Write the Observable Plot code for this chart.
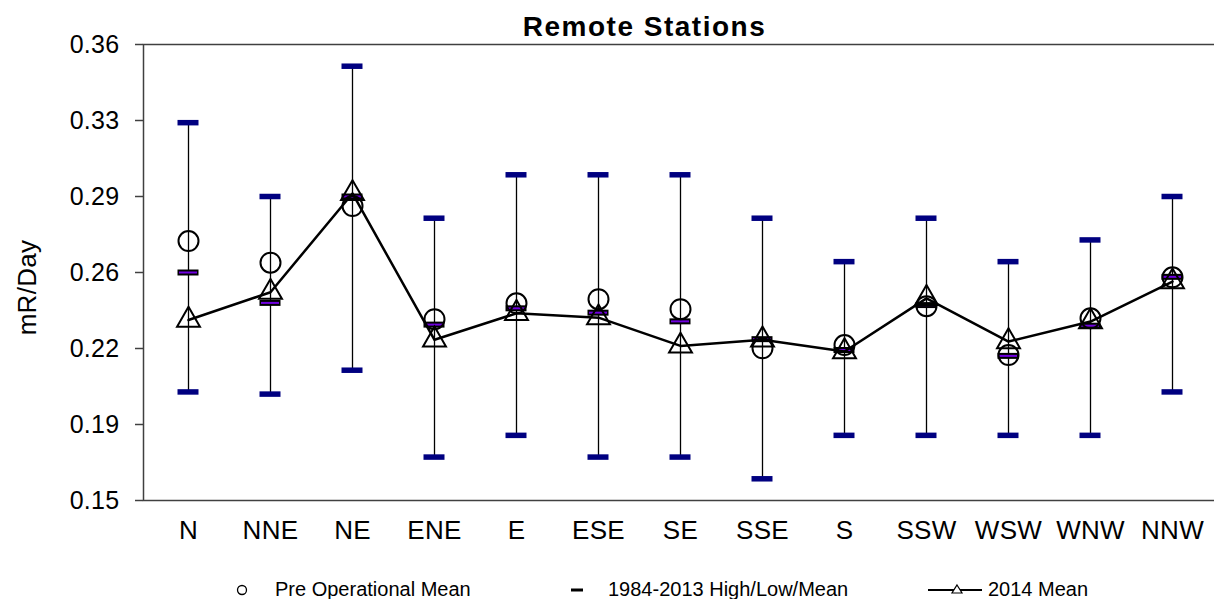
<!DOCTYPE html>
<html><head><meta charset="utf-8">
<script src="https://cdn.jsdelivr.net/npm/d3@7"></script>
<script src="https://cdn.jsdelivr.net/npm/@observablehq/plot@0.6"></script>
<style>
html,body{margin:0;padding:0;background:#fff;overflow:hidden;}
body{font-family:"Liberation Sans",Arial,sans-serif;color:#000;width:1214px;}
#title{position:relative;z-index:2;height:22px;box-sizing:border-box;padding-top:13px;padding-left:75px;text-align:center;font-weight:bold;font-size:28px;line-height:28px;letter-spacing:1.5px;width:1214px;white-space:nowrap;overflow:visible;}
#legend{position:relative;height:19px;width:1214px;font-size:20px;line-height:19px;}
#legend .item{position:absolute;top:0;white-space:nowrap;}
#legend svg{position:absolute;top:0;overflow:visible;}
</style>
</head><body>
<div id="title">Remote Stations</div>
<div id="chart"></div>
<div id="legend"></div>
<script>
const dirs = ["N","NNE","NE","ENE","E","ESE","SE","SSE","S","SSW","WSW","WNW","NNW"];
const high = [0.324,0.290,0.350,0.280,0.300,0.300,0.300,0.280,0.260,0.280,0.260,0.270,0.290];
const low  = [0.200,0.199,0.210,0.170,0.180,0.170,0.170,0.160,0.180,0.180,0.180,0.180,0.200];
const histMean = [0.255,0.241,0.290,0.231,0.2385,0.2365,0.2325,0.2243,0.2193,0.2400,0.2166,0.2305,0.2530];
const preOpMean = [0.2695,0.2595,0.2856,0.2335,0.2408,0.2427,0.2381,0.2201,0.2216,0.2395,0.2170,0.2339,0.2528];
const mean2014 = [0.2331,0.2459,0.2914,0.2240,0.2362,0.2342,0.2212,0.2240,0.2186,0.2431,0.2232,0.2324,0.2508];
const yTicks = [0.15,0.185,0.22,0.255,0.29,0.325,0.36];
const yTickLabels = ["0.15","0.19","0.22","0.26","0.29","0.33","0.36"];
const legendLabels = ["Pre Operational Mean","1984-2013 High/Low/Mean","2014 Mean"];

const data = dirs.map((d,i)=>({dir:d, high:high[i], low:low[i], mean:histMean[i], pre:preOpMean[i], y14:mean2014[i]}));

const chart = Plot.plot({
  width:1214, height:558,
  marginTop:22, marginBottom:80, marginLeft:143, marginRight:-3,
  style:{fontFamily:"'Liberation Sans', Arial, sans-serif", color:"#000", background:"transparent"},
  x:{type:"band", domain:dirs, padding:0, label:null},
  y:{domain:[0.15,0.36], label:null},
  marks:[
    Plot.frame({stroke:"#404040", strokeWidth:1.5}),
    Plot.axisX({tickSize:0, tickPadding:20, fontSize:26, label:null}),
    Plot.axisY({ticks:yTicks, tickFormat:d=>yTickLabels[yTicks.indexOf(d)], tickSize:8, tickPadding:16, fontSize:25, stroke:"#404040", strokeWidth:1.5, label:null}),
    Plot.text(["mR/Day"], {frameAnchor:"left", textAnchor:"middle", dx:-116, dy:15, rotate:-90, fontSize:26, fill:"#000", style:{letterSpacing:"1.5px"}}),
    Plot.ruleX(data, {x:"dir", y1:"low", y2:"high", stroke:"#000", strokeWidth:1.3}),
    Plot.tickY(data, {x:"dir", y:"high", stroke:"#000080", strokeWidth:5.5, inset:30.5}),
    Plot.tickY(data, {x:"dir", y:"low", stroke:"#000080", strokeWidth:5.5, inset:30.5}),
    Plot.tickY(data, {x:"dir", y:"mean", stroke:"#000", strokeWidth:6, inset:30.5}),
    Plot.tickY(data, {x:"dir", y:"mean", stroke:"#7000E0", strokeWidth:2, inset:32}),
    Plot.dot(data, {x:"dir", y:"pre", r:10, stroke:"#000", strokeWidth:2, fill:"none"}),
    Plot.line(data, {x:"dir", y:"y14", stroke:"#000", strokeWidth:2.5}),
    Plot.dot(data, {x:"dir", y:"y14", symbol:"triangle", r:8.5, stroke:"#000", strokeWidth:2, fill:"none"})
  ]
});
chart.style.letterSpacing = "0.3px";
document.getElementById("chart").appendChild(chart);

// legend
const lg = document.getElementById("legend");
const ns = "http://www.w3.org/2000/svg";
function addSvg(left, width, build){
  const s = document.createElementNS(ns,"svg");
  s.setAttribute("width",width); s.setAttribute("height",19);
  s.style.left = left+"px";
  build(s); lg.appendChild(s);
}
function el(s, tag, attrs){ const e=document.createElementNS(ns,tag); for(const k in attrs) e.setAttribute(k,attrs[k]); s.appendChild(e); }
addSvg(236, 12, s=>el(s,"circle",{cx:6,cy:10,r:4.5,fill:"none",stroke:"#000","stroke-width":1.3}));
addSvg(570, 14, s=>el(s,"line",{x1:1,x2:13,y1:10,y2:10,stroke:"#000","stroke-width":3}));
addSvg(928, 54, s=>{
  el(s,"line",{x1:0,x2:54,y1:10,y2:10,stroke:"#000","stroke-width":1.8});
  el(s,"path",{d:"M29,5 L34,13 L24,13 Z",fill:"#fff",stroke:"#000","stroke-width":1.2});
});
[[275,legendLabels[0]],[608,legendLabels[1]],[988,legendLabels[2]]].forEach(([x,t])=>{
  const d=document.createElement("div"); d.className="item"; d.style.left=x+"px"; d.textContent=t; lg.appendChild(d);
});
</script>
</body></html>
